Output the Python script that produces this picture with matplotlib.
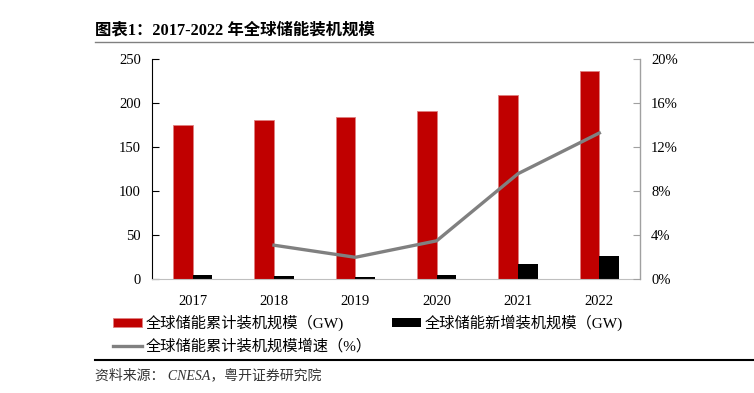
import matplotlib.pyplot as plt
import numpy as np

plt.rcParams['font.family'] = ['Liberation Serif', 'Noto Sans CJK SC']

years = ['2017', '2018', '2019', '2020', '2021', '2022']
cumulative = [175.4, 180.9, 184.6, 191.1, 209.4, 237.2]
new_added = [4.9, 3.7, 2.7, 4.8, 17.3, 26.5]
growth = [np.nan, 3.1, 2.0, 3.5, 9.6, 13.3]

fig = plt.figure(figsize=(7.54, 3.93), dpi=100)
ax = fig.add_axes([0.2016, 0.2893, 0.6472, 0.5598])
ax2 = ax.twinx()

x = np.arange(len(years))
w = 0.24
ax.bar(x - w / 2, cumulative, w, color='#C00000', edgecolor='#E08080', linewidth=0.6,
       label='全球储能累计装机规模（GW)')
ax.bar(x + w / 2, new_added, w, color='black', label='全球储能新增装机规模（GW)')
ax2.plot(x, growth, color='#808080', linewidth=2.4, label='全球储能累计装机规模增速（%）')

ax.set_xlim(-0.5, len(years) - 0.5)
ax.set_ylim(0, 250)
ax.set_yticks(range(0, 251, 50))
ax2.set_ylim(0, 20)
ax2.set_yticks(range(0, 21, 4))
ax2.set_yticklabels([f'{v}%' for v in range(0, 21, 4)])
ax.set_xticks(x)
ax.set_xticklabels(years)

for a in (ax, ax2):
    a.spines['top'].set_visible(False)
    a.tick_params(labelsize=10.5)
ax.spines['left'].set_color('black')
ax.spines['bottom'].set_color('#BFBFBF')
ax2.spines['right'].set_color('#A0A0A0')
ax2.spines['left'].set_visible(False)
ax2.spines['bottom'].set_visible(False)
ax.tick_params(axis='y', direction='in', length=5, pad=8)
ax2.tick_params(axis='y', direction='in', length=5, color='#A0A0A0', pad=8)
ax.tick_params(axis='x', length=0, pad=11)

h1, l1 = ax.get_legend_handles_labels()
h2, l2 = ax2.get_legend_handles_labels()
handles = [h1[0], h2[0], h1[1]]
labels = [l1[0], l2[0], l1[1]]
fig.legend(handles, labels, ncol=2, loc='upper left', bbox_to_anchor=(0.150, 0.200),
           frameon=False, fontsize=11, handlelength=1.9, handleheight=0.55,
           handletextpad=0.25, columnspacing=1.3, labelspacing=0.55, borderaxespad=0,
           borderpad=0)

fig.text(0.126, 0.923, '图表1：2017-2022 年全球储能装机规模', fontsize=11.8, fontweight='bold',
         va='center', ha='left')
fig.add_artist(plt.Line2D([0.126, 1.0], [0.893, 0.893], color='#808080', linewidth=1.0))
fig.add_artist(plt.Line2D([0.126, 1.0], [0.085, 0.085], color='black', linewidth=1.5))
fig.text(0.126, 0.045, '资料来源： CNESA，粤开证券研究院', fontsize=10, style='italic',
         color='#333333', va='center', ha='left')

fig.savefig('out.png', dpi=100)
